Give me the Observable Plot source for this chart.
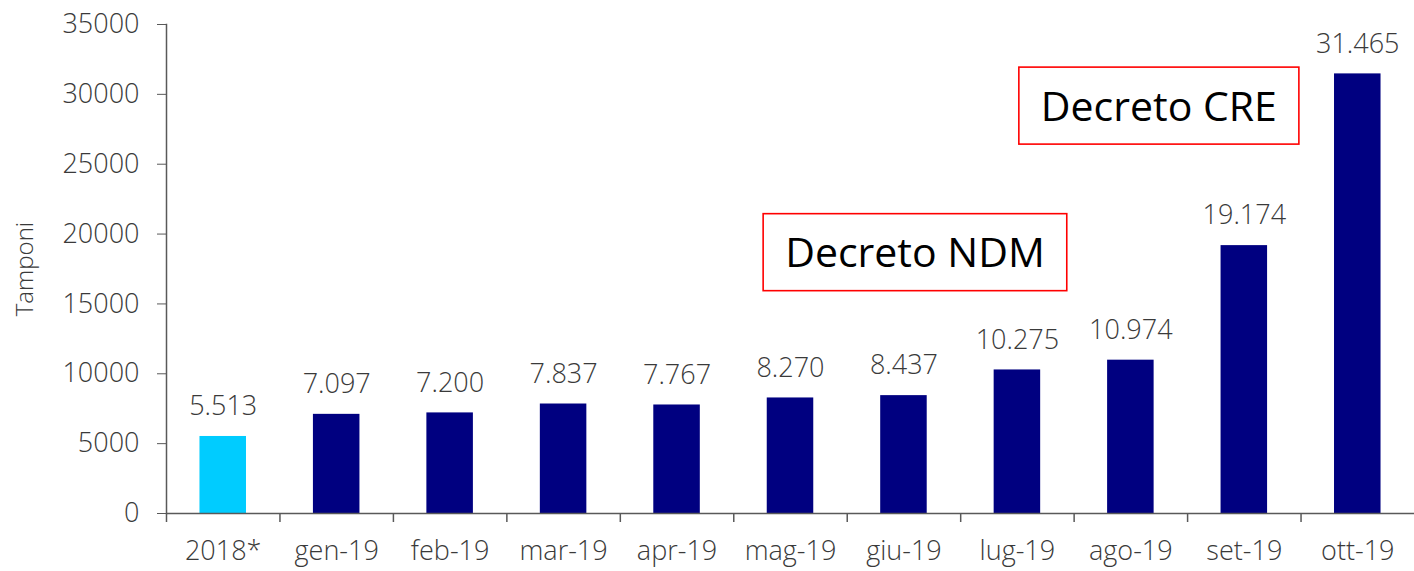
<!DOCTYPE html>
<html><head><meta charset="utf-8">
<script src="https://cdn.jsdelivr.net/npm/d3@7"></script>
<script src="https://cdn.jsdelivr.net/npm/@observablehq/plot@0.6"></script>
<style>html,body{margin:0;padding:0;background:#fff}svg{display:block}</style>
</head><body><div id="chart"></div>
<script>
const categories = ["2018*", "gen-19", "feb-19", "mar-19", "apr-19", "mag-19", "giu-19", "lug-19", "ago-19", "set-19", "ott-19"];
const values = [5513, 7097, 7200, 7837, 7767, 8270, 8437, 10275, 10974, 19174, 31465];
const groups = ["2018", "2019", "2019", "2019", "2019", "2019", "2019", "2019", "2019", "2019", "2019"];
const yTicks = [0, 5000, 10000, 15000, 20000, 25000, 30000, 35000];
const annotationLabels = ["Decreto NDM", "Decreto CRE"];
const annotationX = ["giu-19", "ago-19"];
const annotationY = [18570, 29060];
const annotationDx = [11, 28];

const fmt = d3.formatLocale({decimal: ",", thousands: ".", grouping: [3], currency: ["", ""]}).format(",");
const data = categories.map((c, i) => ({cat: c, value: values[i], group: groups[i]}));
const annotations = annotationLabels.map((t, i) => ({text: t, x: annotationX[i], y: annotationY[i], dx: annotationDx[i]}));

const W = 1414, H = 571, mL = 166, mR = 0, mT = 24, mB = 58;
const step = (W - mL - mR) / categories.length;
const axisColor = "#595959", textColor = "#3a3a3a";

const marks = [
  Plot.barY(data, {x: "cat", y: "value", fill: "group"}),
  Plot.text(data, {x: "cat", y: "value", text: d => fmt(d.value), dy: -30, lineAnchor: "middle", fill: textColor, fontSize: 27, fontWeight: 300}),
  Plot.axisY({ticks: yTicks, tickSize: 9, tickPadding: 18, tickFormat: d => String(d), stroke: axisColor, fill: textColor, fontSize: 27, fontWeight: 300,
    label: "Tamponi", labelAnchor: "center", labelArrow: "none", labelOffset: 151}),
  Plot.frame({anchor: "left", stroke: axisColor, strokeWidth: 1.5}),
  Plot.ruleY([0], {stroke: axisColor, strokeWidth: 1.5}),
  Plot.axisX({tickSize: 9, text: null, dx: -step / 2, stroke: axisColor, strokeWidth: 1.5}),
  Plot.axisX({tickSize: 0, tickPadding: 27, fill: textColor, fontSize: 27, fontWeight: 300, label: null}),
  ...annotations.map(a => Plot.text([a], {x: "x", y: "y", text: "text", dx: a.dx, lineAnchor: "middle", fill: "#000", fontSize: 41, className: "annot"}))
];

const plot = Plot.plot({
  width: W, height: H, marginLeft: mL, marginRight: mR, marginTop: mT, marginBottom: mB,
  style: {fontFamily: "'Open Sans', sans-serif", background: "#fff", color: textColor, overflow: "visible"},
  x: {domain: categories, paddingInner: 0.59, paddingOuter: 0.295, round: false, label: null, axis: null},
  y: {domain: [0, 35000], label: null, axis: null},
  color: {domain: ["2018", "2019"], range: ["#00CCFF", "#000080"]},
  marks
});
document.getElementById("chart").appendChild(plot);

// Styles for y-axis label
plot.querySelectorAll("text").forEach(t => {
  if (t.textContent === "Tamponi") { t.setAttribute("font-size", 24); t.style.fontSize = "24px"; t.setAttribute("font-weight", 300); }
});

// Draw red boxes around annotations
plot.querySelectorAll(".annot text").forEach(t => {
  const bb = t.getBBox();
  const ctm = t.getAttribute("transform");
  const r = document.createElementNS("http://www.w3.org/2000/svg", "rect");
  const padX = 22, h = 77;
  const cy = bb.y + bb.height / 2 + 1;
  r.setAttribute("x", bb.x - padX);
  r.setAttribute("y", cy - h / 2);
  r.setAttribute("width", bb.width + 2 * padX);
  r.setAttribute("height", h);
  r.setAttribute("fill", "#fff");
  r.setAttribute("stroke", "#FF0000");
  r.setAttribute("stroke-width", 1.6);
  if (ctm) r.setAttribute("transform", ctm);
  t.parentNode.insertBefore(r, t);
});
</script></body></html>
